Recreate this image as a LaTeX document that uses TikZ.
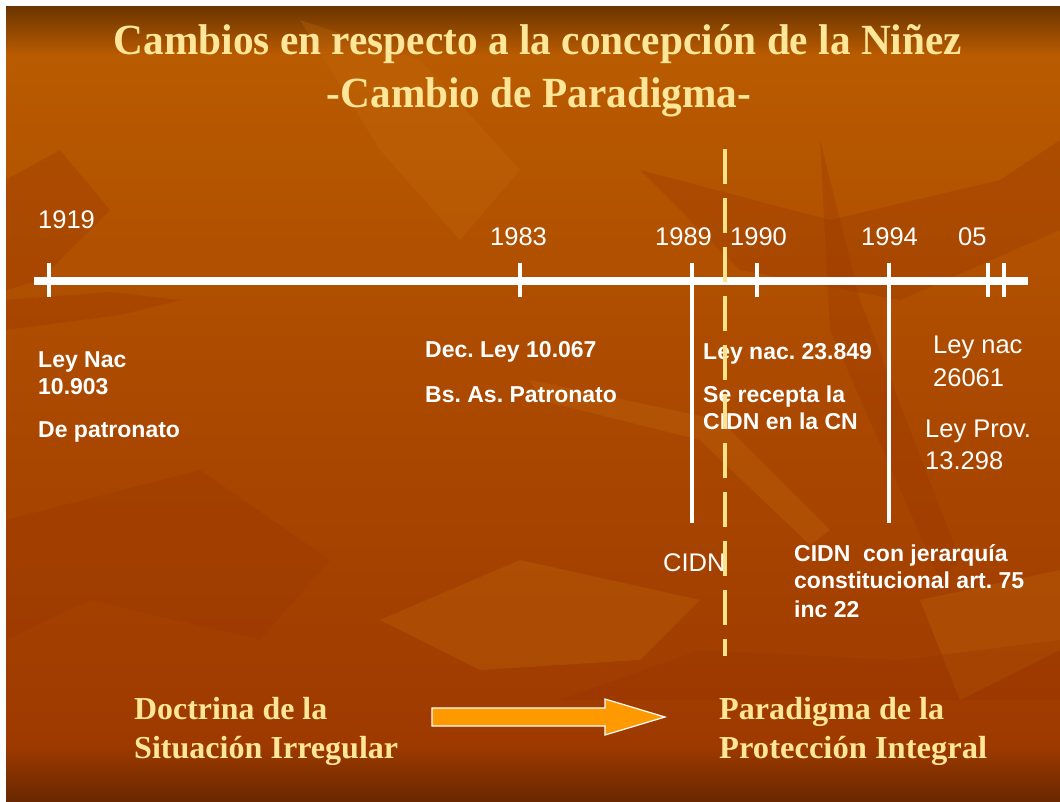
\documentclass[tikz,border=0pt]{standalone}
\usepackage{fontspec}
\setmainfont{Liberation Serif}
\setsansfont{Liberation Sans}
\usepackage{graphicx}
\frenchspacing
\definecolor{bgtop}{HTML}{6B3500}
\definecolor{bgor}{HTML}{B95B00}
\definecolor{bgmid}{HTML}{AA4800}
\definecolor{bglow}{HTML}{9E3A00}
\definecolor{bgbot}{HTML}{6A2800}
\definecolor{ttl}{HTML}{FFE699}
\definecolor{dashy}{HTML}{FFE38A}
\definecolor{arrowor}{HTML}{FF9900}
\definecolor{leafdark}{HTML}{993500}
\definecolor{leaflight}{HTML}{C46A10}
\tikzset{
  ttltext/.style={font=\rmfamily\bfseries\fontsize{43}{43}\selectfont, text=ttl, anchor=base, inner sep=0},
  bottext/.style={font=\rmfamily\bfseries\fontsize{32}{32}\selectfont, text=ttl, anchor=base west, inner sep=0},
  yeartext/.style={font=\sffamily\fontsize{25.5}{25.5}\selectfont, text=white, anchor=base west, inner sep=0},
  regtext/.style={font=\sffamily\fontsize{25.5}{25.5}\selectfont, text=white, anchor=base west, inner sep=0},
  boldtext/.style={font=\sffamily\bfseries\fontsize{23}{23}\selectfont, text=white, anchor=base west, inner sep=0},
  axisline/.style={draw=white, line width=8pt},
  tickline/.style={draw=white, line width=4.5pt},
  longline/.style={draw=white, line width=4pt},
  divider/.style={draw=dashy, line width=4.5pt, dash pattern=on 35pt off 14pt},
  bigarrow/.style={fill=arrowor, draw=white, line width=1.2pt, line join=miter},
  leafd/.style={fill=leafdark, opacity=0.3, draw=none},
  leafl/.style={fill=leaflight, opacity=0.3, draw=none},
}
\begin{document}
\begin{tikzpicture}[x=1pt, y=-1pt]
\useasboundingbox (0,0) rectangle (1060,801);
\fill[white] (0,0) rectangle (1060,801);
% background
\shade[top color=bgtop, bottom color=bgor] (6,6) rectangle (1060,55);
\shade[top color=bgor, bottom color=bgmid] (6,55) rectangle (1060,420);
\shade[top color=bgmid, bottom color=bglow] (6,420) rectangle (1060,745);
\shade[top color=bglow, bottom color=bgbot] (6,745) rectangle (1060,801);
% background leaves
\fill[leafd] (6,300) -- (110,292) -- (180,300) -- (120,315) -- (6,330) -- cycle;
\fill[leafd] (6,180) -- (60,150) -- (110,210) -- (40,280) -- (6,290) -- cycle;
\fill[leafl] (300,20) -- (420,60) -- (520,170) -- (460,240) -- (380,150) -- cycle;
\fill[leafd] (640,170) -- (830,220) -- (1000,180) -- (1060,140) -- (1060,230) -- (900,300) -- (740,270) -- cycle;
\fill[leafd] (820,140) -- (860,300) -- (960,560) -- (940,580) -- (830,330) -- cycle;
\fill[leafl] (920,600) -- (1060,570) -- (1060,650) -- (960,700) -- cycle;
\fill[leafd] (6,520) -- (200,470) -- (330,560) -- (260,640) -- (90,600) -- (6,640) -- cycle;
\fill[leafl] (380,620) -- (520,560) -- (700,600) -- (640,660) -- (480,670) -- cycle;
\fill[leafl] (530,380) -- (720,420) -- (830,530) -- (810,545) -- (700,440) -- (540,400) -- cycle;
\fill[leafd] (560,700) -- (700,650) -- (900,660) -- (1060,640) -- (1060,700) -- (760,700) -- cycle;
% title
\node[ttltext] (title1) at (538,54) {\resizebox{848pt}{\height}{Cambios en respecto a la concepción de la Niñez}};
\node[ttltext] (title2) at (539,107) {\resizebox{424pt}{\height}{-Cambio de Paradigma-}};
% axis
\coordinate (axL) at (34,280.5);
\coordinate (axR) at (1028,280.5);
\draw[axisline] (axL) -- (axR);
% ticks
\foreach \n/\x in {t1919/49, t1983/520, t1990/757, t05a/988, t05b/1004}{
  \coordinate (\n top) at (\x,263);
  \coordinate (\n bot) at (\x,297);
  \draw[tickline] (\n top) -- (\n bot);
}
\coordinate (l1989top) at (692,263);
\coordinate (l1989bot) at (692,523);
\coordinate (l1994top) at (889,263);
\coordinate (l1994bot) at (889,523);
\draw[longline] (l1989top) -- (l1989bot);
\draw[longline] (l1994top) -- (l1994bot);
% years
\node[yeartext] (y1919) at (38,228) {1919};
\node[yeartext] (y1983) at (490,245) {1983};
\node[yeartext] (y1989) at (655,245) {1989};
\node[yeartext] (y1990) at (730,245) {1990};
\node[yeartext] (y1994) at (861,245) {1994};
\node[yeartext] (y05) at (958,245) {05};
% labels
\node[boldtext] (a1) at (38,367) {Ley Nac};
\node[boldtext] (a2) at (38,394) {10.903};
\node[boldtext] (a3) at (38,437) {De patronato};
\node[boldtext] (b1) at (425,357) {Dec. Ley 10.067};
\node[boldtext] (b2) at (425,402) {Bs. As. Patronato};
\node[boldtext] (c1) at (703,359) {Ley nac. 23.849};
\node[boldtext] (c2) at (703,402) {Se recepta la};
\node[boldtext] (c3) at (703,429) {CIDN en la CN};
\node[regtext] (d1) at (933,353) {Ley nac};
\node[regtext] (d2) at (933,386) {26061};
\node[regtext] (e1) at (925,437) {Ley Prov.};
\node[regtext] (e2) at (925,469) {13.298};
\node[regtext] (cidn) at (663,571) {CIDN};
\node[boldtext] (f1) at (794,561) {CIDN\ \ con jerarquía};
\node[boldtext] (f2) at (794,588) {constitucional art. 75};
\node[boldtext] (f3) at (794,617) {inc 22};
% dashed divider
\coordinate (dvtop) at (725,149);
\coordinate (dvbot) at (725,656);
\draw[divider] (dvtop) -- (dvbot);
% bottom texts
\node[bottext] (doc1) at (134,719) {\resizebox{193pt}{\height}{Doctrina de la}};
\node[bottext] (doc2) at (134,758) {\resizebox{264pt}{\height}{Situación Irregular}};
\node[bottext] (par1) at (719,719) {\resizebox{225pt}{\height}{Paradigma de la}};
\node[bottext] (par2) at (719,758) {\resizebox{268pt}{\height}{Protección Integral}};
% arrow
\coordinate (arS) at (432,717);
\coordinate (arT) at (665,717);
\draw[bigarrow] (432,708) -- (605,708) -- (605,699) -- (arT) -- (605,735) -- (605,726) -- (432,726) -- cycle;
\end{tikzpicture}
\end{document}
